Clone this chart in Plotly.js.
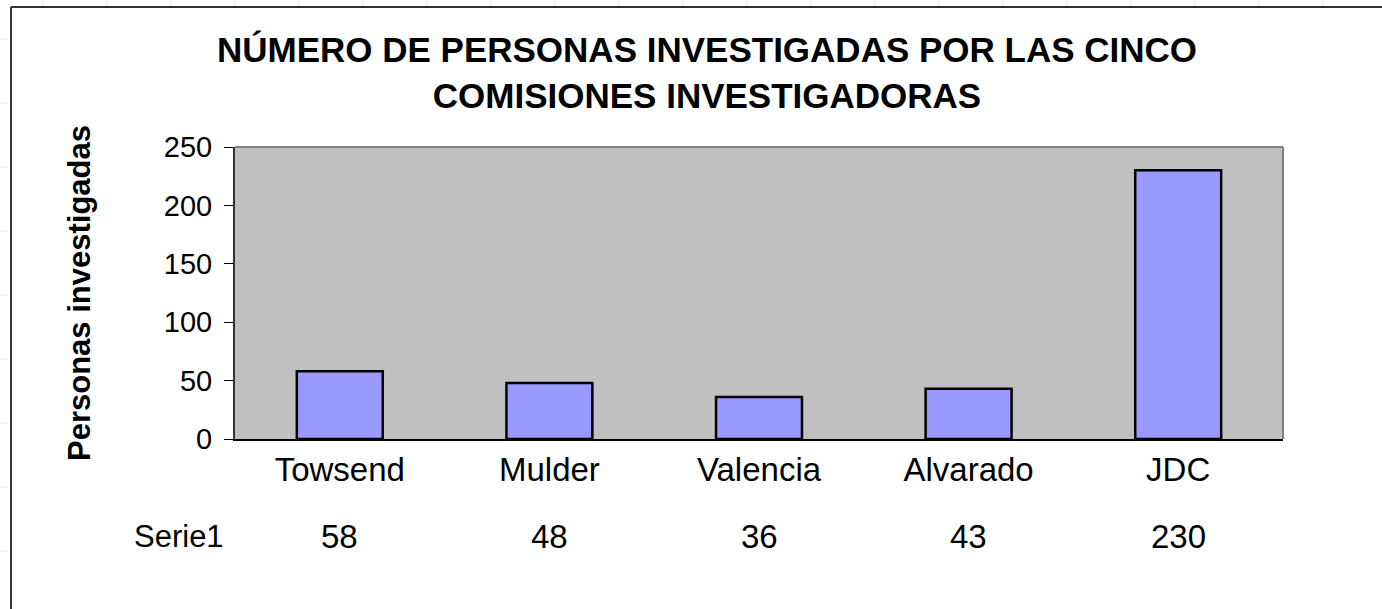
<!DOCTYPE html>
<html>
<head>
<meta charset="utf-8">
<script src="https://cdn.plot.ly/plotly-3.0.1.min.js"></script>
<style>html,body{margin:0;padding:0;background:#fff;}#chart{width:1382px;height:609px;}</style>
</head>
<body>
<div id="chart"></div>
<script>
// ---- data ----
var categories = ["Towsend", "Mulder", "Valencia", "Alvarado", "JDC"];
var values = [58, 48, 36, 43, 230];
var seriesName = "Serie1";
var yTickVals = [0, 50, 100, 150, 200, 250];
var titleLines = ["NÚMERO DE PERSONAS INVESTIGADAS POR LAS CINCO", "COMISIONES INVESTIGADORAS"];
var yAxisTitle = "Personas investigadas";

// ---- layout geometry (pixels) ----
var W = 1382, H = 609;
var L = 235, R = 1283, T = 147, B = 439;
function px(x){ return (x - L) / (R - L); }
function py(y){ return (B - y) / (B - T); }

var FONT = "Arial, 'Liberation Sans', sans-serif";

var shapes = [];
// faint spreadsheet grid outside chart frame
for (var gx = 43; gx < W; gx += 64) {
  shapes.push({type:'line', xref:'paper', yref:'paper', x0:px(gx), x1:px(gx), y0:py(0), y1:py(6), line:{color:'#dde2f6', width:1}, layer:'above'});
}
for (var gy = 39; gy < H; gy += 64) {
  shapes.push({type:'line', xref:'paper', yref:'paper', x0:px(0), x1:px(8), y0:py(gy), y1:py(gy), line:{color:'#dde2f6', width:1}, layer:'above'});
}
// chart frame
shapes.push({type:'line', xref:'paper', yref:'paper', x0:px(11), x1:px(11), y0:py(7), y1:py(H+5), line:{color:'#333333', width:2}, layer:'above'});
shapes.push({type:'line', xref:'paper', yref:'paper', x0:px(11), x1:px(W+5), y0:py(7), y1:py(7), line:{color:'#333333', width:2}, layer:'above'});
// plot area top & right border (gray)
shapes.push({type:'line', xref:'paper', yref:'paper', x0:0, x1:1, y0:1, y1:1, line:{color:'#808080', width:2}, layer:'above'});
shapes.push({type:'line', xref:'paper', yref:'paper', x0:1, x1:1, y0:0, y1:1, line:{color:'#808080', width:2}, layer:'above'});

var annotations = [];
// data table row
annotations.push({xref:'paper', yref:'paper', x:px(179), y:py(536), text:seriesName, showarrow:false, xanchor:'center', yanchor:'middle', font:{family:FONT, size:31, color:'#000'}});
for (var i = 0; i < categories.length; i++) {
  annotations.push({xref:'x', yref:'paper', x:categories[i], y:py(536), text:String(values[i]), showarrow:false, xanchor:'center', yanchor:'middle', font:{family:FONT, size:33, color:'#000'}});
}

var trace = {
  type:'bar',
  x:categories,
  y:values,
  name:seriesName,
  marker:{color:'#9999FF', line:{color:'#000000', width:2.5}},
  hoverinfo:'x+y'
};

var layout = {
  width:W, height:H,
  margin:{l:L, r:W-R, t:T, b:H-B, pad:0},
  paper_bgcolor:'#ffffff',
  plot_bgcolor:'#C0C0C0',
  showlegend:false,
  bargap:0.59,
  font:{family:FONT, color:'#000'},
  title:{text:titleLines.join('<br>'), xref:'container', yref:'container', x:707/W, y:1-62/H, xanchor:'center', yanchor:'middle', font:{family:FONT, size:35, color:'#000', weight:'bold'}},
  xaxis:{
    type:'category',
    showline:true, linecolor:'#000', linewidth:2,
    ticks:'', showgrid:false, zeroline:false,
    tickfont:{family:FONT, size:33, color:'#000'},
    ticklabelstandoff:0,
    automargin:false, fixedrange:true
  },
  yaxis:{
    range:[0,250],
    tickvals:yTickVals,
    showline:true, linecolor:'#333', linewidth:2,
    ticks:'outside', ticklen:9, tickcolor:'#000', tickwidth:1,
    showgrid:false, zeroline:false,
    tickfont:{family:FONT, size:29, color:'#000'},
    ticklabelstandoff:6,
    title:{text:yAxisTitle, font:{family:FONT, size:31, color:'#000', weight:'bold'}, standoff:64},
    automargin:false, fixedrange:true
  },
  shapes:shapes,
  annotations:annotations
};

Plotly.newPlot('chart', [trace], layout, {displayModeBar:false, staticPlot:true});
</script>
</body>
</html>
